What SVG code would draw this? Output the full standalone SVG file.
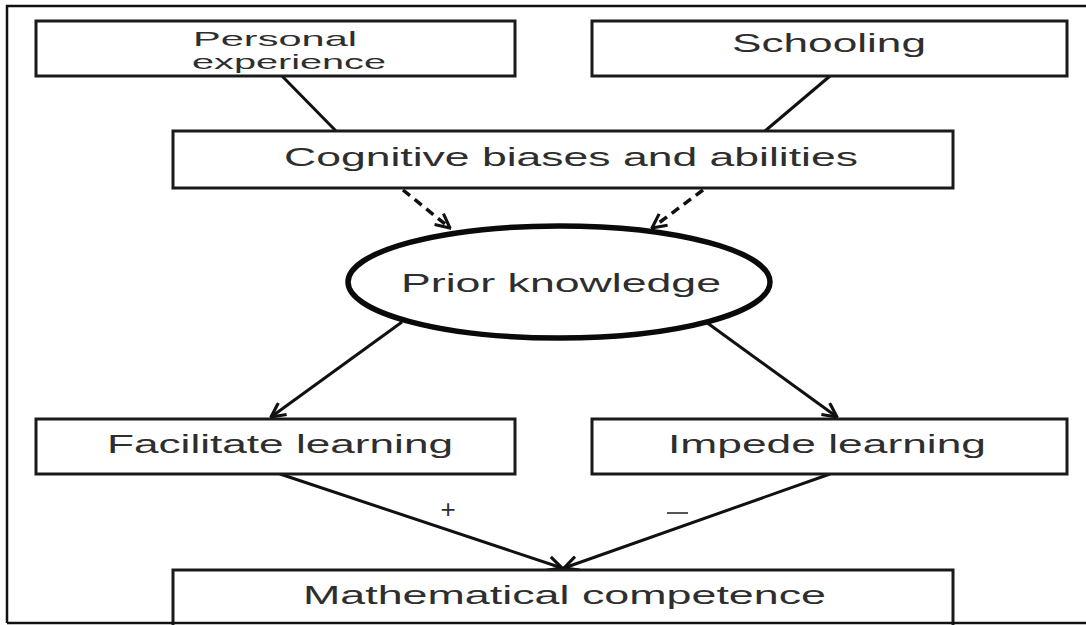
<svg xmlns="http://www.w3.org/2000/svg" width="1086" height="625" viewBox="0 0 1086 625">
  <style>
    .box { fill: #ffffff; stroke: #1a1a1a; stroke-width: 3; }
    .lbl { font-family: "Liberation Sans", Arial, sans-serif; font-size: 26px; fill: #2e2e2e; }
    .small { font-size: 21px; }
    .wire { fill: none; stroke: #111111; stroke-width: 3; }
    .dash { fill: none; stroke: #111111; stroke-width: 3.5; stroke-dasharray: 9 6; }
    .frame { fill: none; stroke: #111111; stroke-width: 2.5; }
  </style>
  <defs>
    <marker id="open-arrow" viewBox="0 0 12 12" refX="11" refY="6" markerWidth="17" markerHeight="17" markerUnits="userSpaceOnUse" orient="auto">
      <path d="M1,1 L11,6 L1,11" fill="none" stroke="#111111" stroke-width="2.2"/>
    </marker>
  </defs>

  <rect width="1086" height="625" fill="#ffffff"/>

  <!-- outer frame: top and left edges -->
  <path class="frame" d="M1086,6 H7 V623"/>

  <!-- connectors -->
  <g id="connectors">
    <line class="wire" x1="282" y1="76" x2="336" y2="131"/>
    <line class="wire" x1="830" y1="76" x2="765" y2="131"/>
    <line class="dash" x1="403" y1="190" x2="450" y2="228" marker-end="url(#open-arrow)"/>
    <line class="dash" x1="703" y1="190" x2="652" y2="228" marker-end="url(#open-arrow)"/>
    <line class="wire" x1="402" y1="322" x2="271" y2="417" marker-end="url(#open-arrow)"/>
    <line class="wire" x1="706" y1="322" x2="837" y2="417" marker-end="url(#open-arrow)"/>
    <line class="wire" x1="280" y1="474" x2="562" y2="568" marker-end="url(#open-arrow)"/>
    <line class="wire" x1="830" y1="474" x2="564" y2="568" marker-end="url(#open-arrow)"/>
    <text class="lbl" x="448" y="518" text-anchor="middle" font-size="20" fill="#555555">+</text>
    <line x1="667" y1="513" x2="688" y2="513" stroke="#555555" stroke-width="2"/>
  </g>

  <g id="personal-experience">
    <rect class="box" x="36" y="21" width="479" height="55"/>
    <text class="lbl small" x="193" y="46" textLength="164" lengthAdjust="spacingAndGlyphs">Personal</text>
    <text class="lbl small" x="192" y="69" textLength="194" lengthAdjust="spacingAndGlyphs">experience</text>
  </g>

  <g id="schooling">
    <rect class="box" x="592" y="21" width="475" height="55"/>
    <text class="lbl" x="732" y="52" font-size="24" textLength="194" lengthAdjust="spacingAndGlyphs">Schooling</text>
  </g>

  <g id="cognitive-biases">
    <rect class="box" x="173" y="131" width="780" height="57"/>
    <text class="lbl" x="284" y="166" textLength="574" lengthAdjust="spacingAndGlyphs">Cognitive biases and abilities</text>
  </g>

  <g id="prior-knowledge">
    <ellipse cx="559" cy="282" rx="211" ry="56" fill="#ffffff" stroke="#0a0a0a" stroke-width="5.5"/>
    <text class="lbl" x="401" y="292" textLength="320" lengthAdjust="spacingAndGlyphs">Prior knowledge</text>
  </g>

  <g id="facilitate-learning">
    <rect class="box" x="36" y="419" width="479" height="55"/>
    <text class="lbl" x="107" y="453" textLength="346" lengthAdjust="spacingAndGlyphs">Facilitate learning</text>
  </g>

  <g id="impede-learning">
    <rect class="box" x="592" y="419" width="475" height="55"/>
    <text class="lbl" x="668" y="453" textLength="318" lengthAdjust="spacingAndGlyphs">Impede learning</text>
  </g>

  <g id="mathematical-competence">
    <rect class="box" x="173" y="570" width="780" height="70"/>
    <text class="lbl" x="303" y="604" textLength="523" lengthAdjust="spacingAndGlyphs">Mathematical competence</text>
  </g>

  <!-- bottom edge of the frame, drawn over the last box -->
  <line class="frame" x1="7" y1="623" x2="1086" y2="623"/>
</svg>
